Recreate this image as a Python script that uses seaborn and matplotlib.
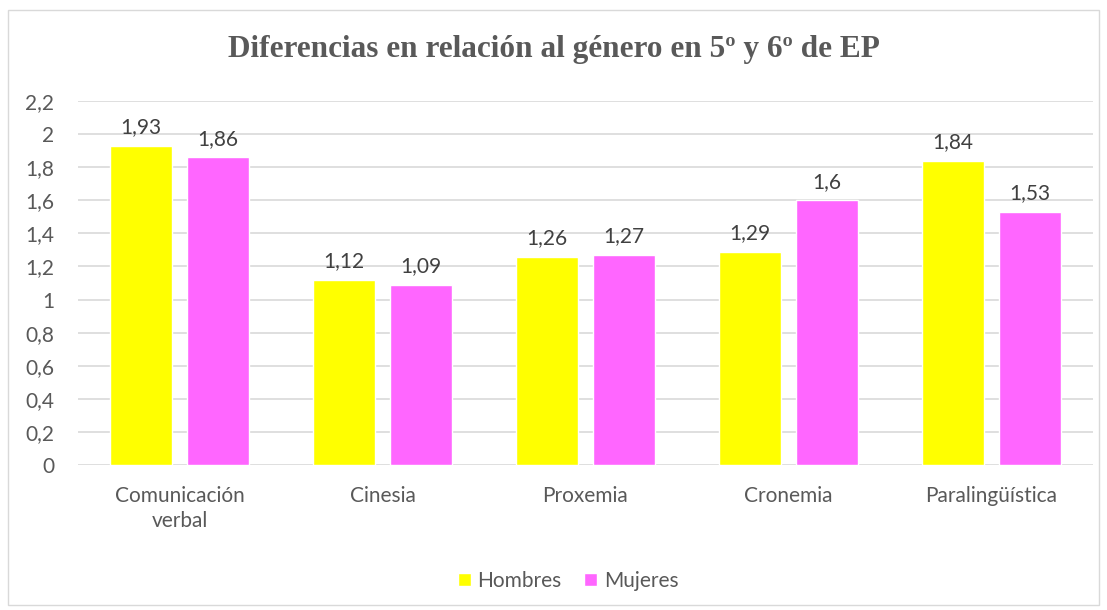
import pandas as pd
import matplotlib.pyplot as plt
import seaborn as sns
from matplotlib.patches import Rectangle

categorias = ['Comunicación\nverbal', 'Cinesia', 'Proxemia', 'Cronemia', 'Paralingüística']
hombres = [1.93, 1.12, 1.26, 1.29, 1.84]
mujeres = [1.86, 1.09, 1.27, 1.60, 1.53]
series = ['Hombres', 'Mujeres']
colores = ['#FFFF00', '#FF66FF']

sns.set_theme(style="whitegrid")
plt.rcParams['font.family'] = ['Lato', 'DejaVu Sans']

df = pd.DataFrame({
    'Categoria': categorias * 2,
    'Serie': ['Hombres'] * len(categorias) + ['Mujeres'] * len(categorias),
    'Valor': hombres + mujeres,
})

fig = plt.figure(figsize=(11.07, 6.1), dpi=100)
ax = fig.add_axes([78 / 1107, 1 - 465 / 610, (1093 - 78) / 1107, (465 - 101) / 610])

sns.barplot(data=df, x='Categoria', y='Valor', hue='Serie', hue_order=series,
            palette=colores, width=0.76, gap=0.2, ax=ax, legend=True,
            saturation=1, errorbar=None)

for cont in ax.containers:
    ax.bar_label(cont, labels=[f'{v:g}'.replace('.', ',') for v in cont.datavalues],
                 padding=6, fontsize=15, color='#404040')

ax.set_ylim(0, 2.2)
ticks = [i / 10 for i in range(0, 23, 2)]
ax.set_yticks(ticks)
ax.set_yticklabels([f'{t:g}'.replace('.', ',') for t in ticks])
ax.set_xlabel('')
ax.set_ylabel('')
ax.grid(axis='y', color='#D9D9D9', linewidth=1.2)
ax.grid(axis='x', visible=False)
for s in ax.spines.values():
    s.set_visible(False)
ax.tick_params(axis='both', colors='#595959', labelsize=15, length=0)
ax.tick_params(axis='y', pad=17)
ax.tick_params(axis='x', pad=15)
for lbl in ax.get_xticklabels():
    lbl.set_color('#595959')
    lbl.set_linespacing(1.3)

handles, labels = ax.get_legend_handles_labels()
ax.get_legend().remove()
fig.legend(handles, labels, loc='center', bbox_to_anchor=(568 / 1107, 1 - 581 / 610),
           ncol=2, frameon=False, fontsize=15, handlelength=0.63, handleheight=0.63,
           handletextpad=0.3, columnspacing=1.1, labelcolor='#595959')

fig.text(0.5, 1 - 50 / 610, 'Diferencias en relación al género en 5º y 6º de EP',
         ha='center', va='center', fontsize=22.5, fontweight='bold',
         family='Liberation Serif', color='#595959')

fig.patches.append(Rectangle((8 / 1107, 5 / 610), 1091 / 1107, 595 / 610,
                             transform=fig.transFigure, fill=False,
                             edgecolor='#D9D9D9', linewidth=1))

fig.savefig('out.png', dpi=100)
